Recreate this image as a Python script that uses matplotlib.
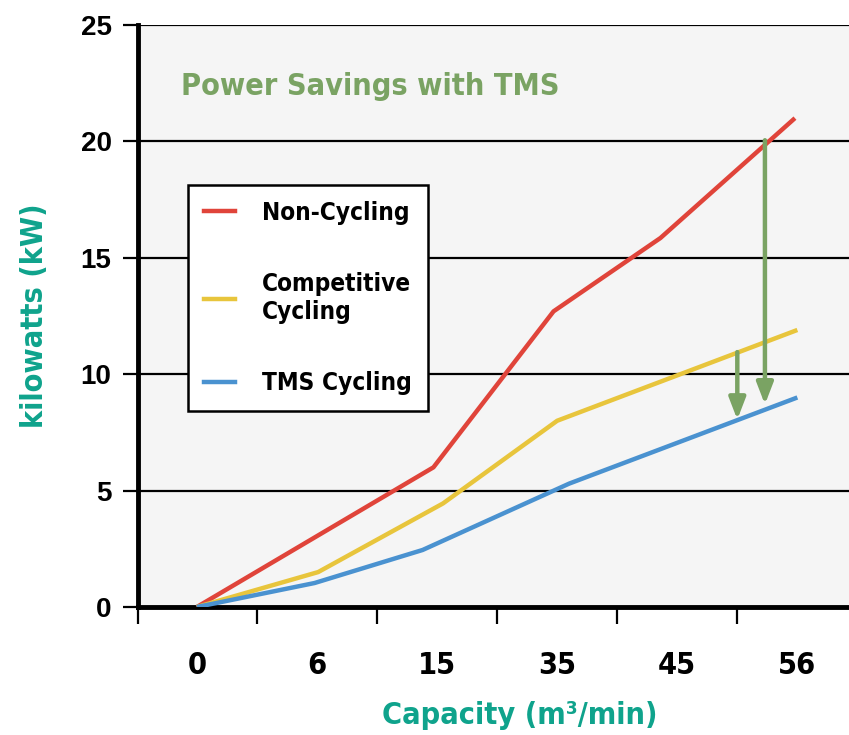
import matplotlib
matplotlib.use("Agg")
import matplotlib.pyplot as plt
from matplotlib.lines import Line2D
from matplotlib.font_manager import FontProperties

capacity = ["0", "6", "15", "35", "45", "56"]
y_ticks = [0, 5, 10, 15, 20, 25]

# vertices as (category position, kW)
noncyc_x = [0, 1.97, 2.97, 3.86, 4.98]
noncyc_y = [0, 6.0, 12.7, 15.85, 21.0]
comp_x = [0, 1.01, 2.05, 3.0, 5.0]
comp_y = [0, 1.5, 4.45, 8.0, 11.9]
tms_x = [0, 0.98, 1.88, 3.1, 5.0]
tms_y = [0, 1.03, 2.45, 5.3, 9.0]

# savings arrows: x position, from (top) to (bottom)
arrow_x = [4.5, 4.73]
arrow_top = [10.95, 20.05]
arrow_bottom = [8.05, 8.7]

RED = "#e0443a"
YELLOW = "#e8c53c"
BLUE = "#4a92d0"
GREEN = "#7aa363"
TEAL = "#0fa38c"


def narrow(size):
    return FontProperties(family="DejaVu Sans", weight="bold",
                          stretch="condensed", size=size)


fig = plt.figure(figsize=(8.49, 7.35), dpi=100)
ax = fig.add_axes([138 / 849, 1 - 607 / 735, 1 - 138 / 849, (607 - 25) / 735])
ax.set_facecolor("#f5f5f5")

ax.set_xlim(-0.49, 5.43)
ax.set_ylim(0, 25)

for v in y_ticks[1:]:
    ax.axhline(v, color="black", lw=1.6, zorder=1)

ax.plot(noncyc_x, noncyc_y, color=RED, lw=3.2, zorder=3, solid_capstyle="butt")
ax.plot(comp_x, comp_y, color=YELLOW, lw=3.2, zorder=3, solid_capstyle="butt")
ax.plot(tms_x, tms_y, color=BLUE, lw=3.2, zorder=3, solid_capstyle="butt")

for x, top, bot in zip(arrow_x, arrow_top, arrow_bottom):
    ax.annotate("", xy=(x, bot), xytext=(x, top),
                arrowprops=dict(arrowstyle="-|>,head_length=1.3,head_width=0.5",
                                color=GREEN, lw=3.2, shrinkA=0, shrinkB=0),
                zorder=4)

for s in ["top", "right"]:
    ax.spines[s].set_visible(False)
ax.spines["left"].set_linewidth(3.5)
ax.spines["bottom"].set_linewidth(3.5)

ax.set_yticks(y_ticks)
ax.set_yticklabels([str(v) for v in y_ticks], fontsize=20, fontweight="bold",
                   family="Liberation Sans")
ax.tick_params(axis="y", length=11, width=1.6, pad=8)

ax.set_xticks(range(len(capacity)))
ax.set_xticklabels(capacity, fontproperties=narrow(22))
ax.tick_params(axis="x", which="major", length=0, pad=32)
ax.set_xticks([-0.49, 0.5, 1.5, 2.5, 3.5, 4.5], minor=True)
ax.tick_params(axis="x", which="minor", length=12, width=1.6)

ax.set_xlabel("Capacity (m³/min)", fontproperties=narrow(22), color=TEAL)
ax.xaxis.set_label_coords(0.537, -0.162)
ax.set_ylabel("kilowatts (kW)", fontproperties=narrow(22), color=TEAL)
ax.yaxis.set_label_coords(-0.125, 0.5)

ax.text(0.06, 0.895, "Power Savings with TMS", transform=ax.transAxes,
        fontproperties=narrow(22), color=GREEN, va="center", ha="left")

handles = [Line2D([], [], color=RED, lw=3.2),
           Line2D([], [], color=YELLOW, lw=3.2),
           Line2D([], [], color=BLUE, lw=3.2)]
labels = ["Non-Cycling", "Competitive\nCycling", "TMS Cycling"]
leg = ax.legend(handles, labels, loc="upper left",
                bbox_to_anchor=(0.0703, 0.725), borderaxespad=0,
                frameon=True, fancybox=False,
                edgecolor="black", facecolor="white", framealpha=1,
                handlelength=1.3, handletextpad=1.1, labelspacing=1.95,
                borderpad=0.65, prop=narrow(17.5))
leg.get_frame().set_linewidth(1.8)
leg.set_zorder(5)

fig.savefig("out.png", dpi=100)
